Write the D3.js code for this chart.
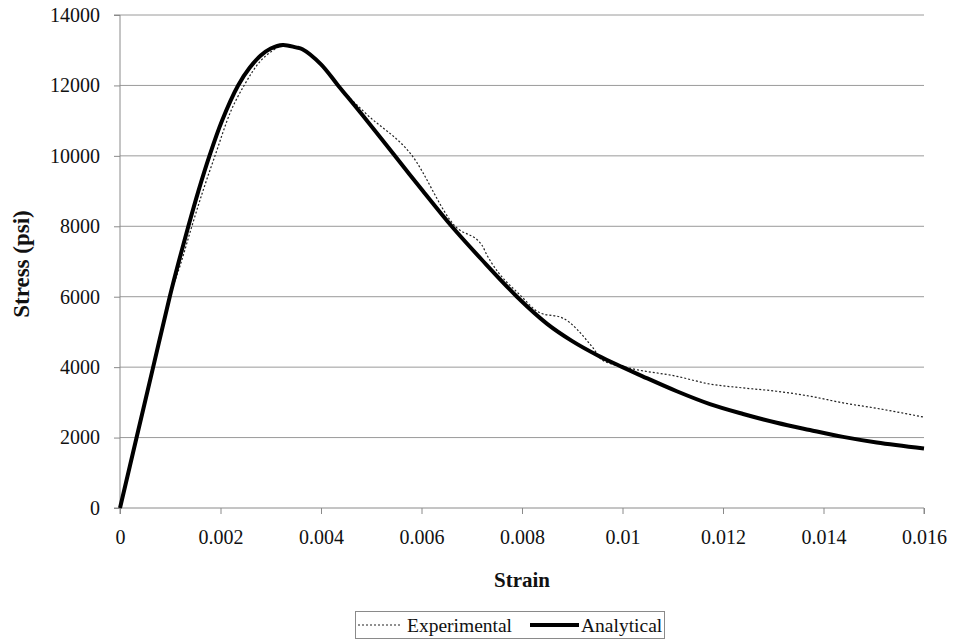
<!DOCTYPE html>
<html>
<head>
<meta charset="utf-8">
<script src="https://cdn.jsdelivr.net/npm/d3@7"></script>
<style>
  body { margin: 0; background: #fff; }
</style>
</head>
<body>
<div id="chart"></div>
<script>
var FONT = '"Liberation Serif", Tinos, "Times New Roman", "DejaVu Serif", serif';

// strain / stress values
var analyticalStrain = [0, 0.00033, 0.00066, 0.00099, 0.00117, 0.00136, 0.00156, 0.00178, 0.00203, 0.00235, 0.00258, 0.0028, 0.003, 0.00324, 0.0035, 0.00363, 0.004, 0.00434, 0.0048, 0.00547, 0.006, 0.0066, 0.0072, 0.0079, 0.0085, 0.009, 0.0095, 0.01, 0.0104, 0.01108, 0.01174, 0.0124, 0.01307, 0.01373, 0.01439, 0.01506, 0.016];
var analyticalStress = [0, 2000, 4000, 6000, 7000, 8000, 9000, 10000, 11000, 12000, 12500, 12850, 13050, 13150, 13080, 13030, 12600, 12000, 11200, 10000, 9050, 8000, 7050, 6000, 5230, 4740, 4340, 4000, 3740, 3315, 2950, 2670, 2420, 2215, 2020, 1860, 1690];

var experimentalStrain = [0, 0.00033, 0.00066, 0.00099, 0.0012, 0.00143, 0.00165, 0.00189, 0.0022, 0.00247, 0.0028, 0.003, 0.0033, 0.0036, 0.004, 0.00434, 0.00488, 0.0058, 0.00667, 0.0072, 0.0073, 0.0074, 0.00796, 0.00836, 0.0088, 0.0094, 0.0096, 0.01015, 0.01108, 0.01174, 0.0124, 0.01307, 0.01373, 0.01439, 0.01506, 0.016];
var experimentalStress = [0, 2000, 4000, 6000, 6900, 8000, 9000, 10000, 11250, 12000, 12700, 12950, 13150, 13050, 12600, 12000, 11220, 10030, 8000, 7470, 7190, 6950, 6050, 5540, 5400, 4570, 4200, 3970, 3740, 3520, 3410, 3315, 3175, 2985, 2830, 2580];

var xTicks = [0, 0.002, 0.004, 0.006, 0.008, 0.01, 0.012, 0.014, 0.016];
var yTicks = [0, 2000, 4000, 6000, 8000, 10000, 12000, 14000];

var width = 957, height = 643;
var margin = {left: 120, right: 33, top: 15, bottom: 135};

var svg = d3.select('#chart').append('svg')
  .attr('width', width)
  .attr('height', height)
  .attr('font-family', FONT);

var x = d3.scaleLinear().domain([0, 0.016]).range([margin.left, width - margin.right]);
var y = d3.scaleLinear().domain([0, 14000]).range([height - margin.bottom, margin.top]);

// gridlines
svg.append('g')
  .selectAll('line')
  .data(yTicks.filter(function(d){ return d > 0; }))
  .enter().append('line')
    .attr('x1', x(0)).attr('x2', x(0.016))
    .attr('y1', function(d){ return y(d); })
    .attr('y2', function(d){ return y(d); })
    .attr('stroke', '#9a9a9a')
    .attr('stroke-width', 1);

var xAxis = svg.append('g')
  .attr('transform', 'translate(0,' + y(0) + ')')
  .call(d3.axisBottom(x).tickValues(xTicks).tickSize(6).tickPadding(16)
    .tickFormat(function(d){ return d === 0 ? '0' : String(+d.toFixed(3)); }));

var yAxis = svg.append('g')
  .attr('transform', 'translate(' + x(0) + ',0)')
  .call(d3.axisLeft(y).tickValues(yTicks).tickSize(6).tickPadding(14)
    .tickFormat(function(d){ return String(d); }));

[xAxis, yAxis].forEach(function(a){
  a.attr('font-family', FONT).attr('font-size', 20);
  a.select('.domain').attr('stroke', '#8a8a8a');
  a.selectAll('.tick line').attr('stroke', '#8a8a8a');
  a.selectAll('.tick text').attr('fill', '#111');
});
xAxis.select('.domain').attr('d', 'M' + x(0) + ',6V0H' + x(0.016) + 'V6');
yAxis.select('.domain').attr('d', 'M-6,' + y(14000) + 'H0V' + y(0) + 'H-6');

// axis titles
svg.append('text')
  .attr('x', (x(0) + x(0.016)) / 2)
  .attr('y', 587)
  .attr('text-anchor', 'middle')
  .attr('font-size', 21)
  .attr('font-weight', 'bold')
  .attr('fill', '#111')
  .text('Strain');

svg.append('text')
  .attr('transform', 'translate(29,264) rotate(-90)')
  .attr('text-anchor', 'middle')
  .attr('font-size', 23)
  .attr('font-weight', 'bold')
  .attr('fill', '#111')
  .text('Stress (psi)');

var smooth = d3.line()
  .x(function(d){ return x(d[0]); })
  .y(function(d){ return y(d[1]); })
  .curve(d3.curveCatmullRom.alpha(0.5));

var jagged = d3.line()
  .x(function(d){ return x(d[0]); })
  .y(function(d){ return y(d[1]); })
  .curve(d3.curveMonotoneX);

var experimental = d3.zip(experimentalStrain, experimentalStress);
var analytical = d3.zip(analyticalStrain, analyticalStress);

svg.append('path')
  .datum(experimental)
  .attr('fill', 'none')
  .attr('stroke', '#222')
  .attr('stroke-width', 1.2)
  .attr('stroke-dasharray', '2,2')
  .attr('d', jagged);

svg.append('path')
  .datum(analytical)
  .attr('fill', 'none')
  .attr('stroke', '#000')
  .attr('stroke-width', 4)
  .attr('stroke-linejoin', 'round')
  .attr('d', smooth);

// legend
var legend = svg.append('g').attr('font-size', 19.5).attr('fill', '#111');
legend.append('rect')
  .attr('x', 355.5).attr('y', 611.5)
  .attr('width', 309).attr('height', 27)
  .attr('fill', 'none')
  .attr('stroke', '#8a8a8a');

legend.append('line')
  .attr('x1', 358).attr('x2', 401)
  .attr('y1', 625).attr('y2', 625)
  .attr('stroke', '#222')
  .attr('stroke-width', 1.2)
  .attr('stroke-dasharray', '2,2');
legend.append('text')
  .attr('x', 407).attr('y', 632)
  .text('Experimental');

legend.append('line')
  .attr('x1', 530).attr('x2', 579)
  .attr('y1', 625).attr('y2', 625)
  .attr('stroke', '#000')
  .attr('stroke-width', 4);
legend.append('text')
  .attr('x', 581).attr('y', 632)
  .text('Analytical');
</script>
</body>
</html>
